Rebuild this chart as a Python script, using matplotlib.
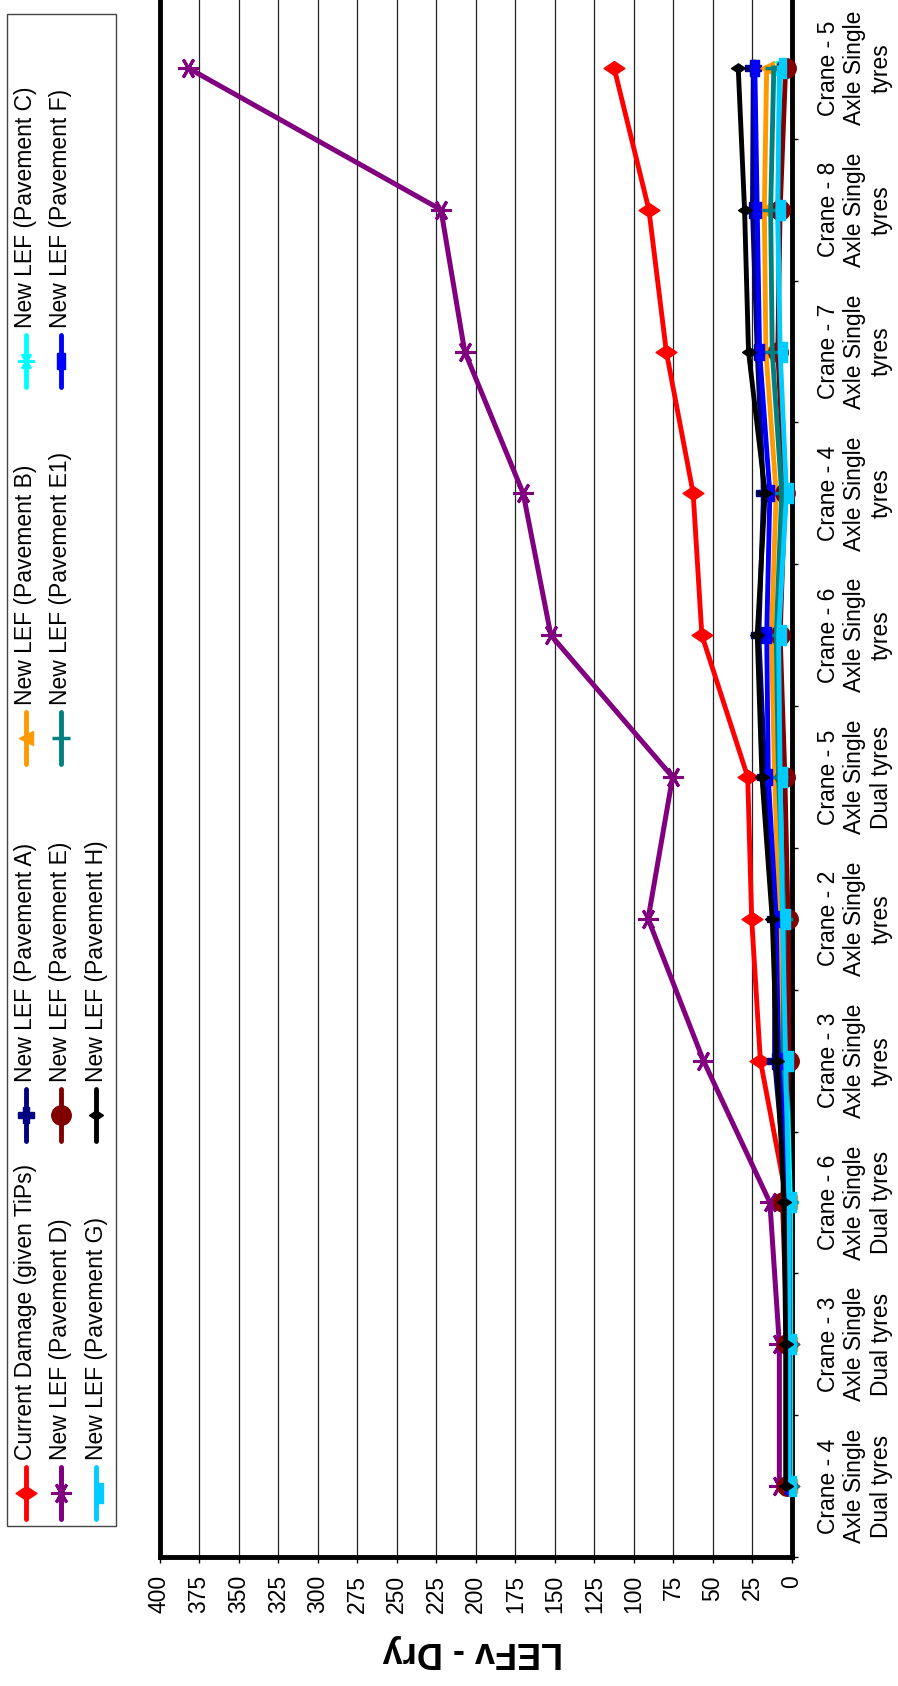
import numpy as np
import matplotlib
matplotlib.use("Agg")
import matplotlib.pyplot as plt
from matplotlib.lines import Line2D
from matplotlib.patches import Rectangle
from matplotlib.path import Path
import matplotlib.transforms as mtransforms

plt.rcParams['font.family'] = ['Liberation Sans', 'DejaVu Sans']

# ---------------- data ----------------
categories = [
    "Crane - 4\nAxle Single\nDual tyres",
    "Crane - 3\nAxle Single\nDual tyres",
    "Crane - 6\nAxle Single\nDual tyres",
    "Crane - 3\nAxle Single\ntyres",
    "Crane - 2\nAxle Single\ntyres",
    "Crane - 5\nAxle Single\nDual tyres",
    "Crane - 6\nAxle Single\ntyres",
    "Crane - 4\nAxle Single\ntyres",
    "Crane - 7\nAxle Single\ntyres",
    "Crane - 8\nAxle Single\ntyres",
    "Crane - 5\nAxle Single\ntyres",
]
current_damage = [2, 2, 3, 20, 25.5, 28, 57, 62.5, 79.5, 90.5, 112.5]
pav_a = [3, 3, 3, 11, 11, 17, 21, 18, 22, 25, 24.5]
pav_b = [1, 1, 1, 7, 8, 11, 13, 10, 16.5, 17.5, 16]
pav_c = [1, 1, 1, 3.5, 5, 7, 8, 4, 8, 9, 7.5]
pav_d = [8, 8, 14, 56, 91, 75.5, 152.5, 170, 207, 222, 382]
pav_e = [3, 3, 6, 2, 2.5, 4.5, 7.5, 4.5, 9, 7.5, 4]
pav_e1 = [1.5, 1.5, 2, 5.5, 5, 8.5, 10, 6.5, 12.5, 13.5, 11.5]
pav_f = [2, 2, 2, 8.5, 10, 15, 16, 14, 20.5, 22, 23.5]
pav_g = [2, 2, 2, 4, 6, 7.5, 8.5, 3.5, 7.5, 9, 8]
pav_h = [4, 4, 5, 9.5, 12.5, 19, 22, 17, 27.5, 30, 34]

value_ticks = list(range(0, 401, 25))
axis_title = "LEFv - Dry"

# ---------------- marker shapes ----------------
diamond = Path([(-1, 0), (0, 0.67), (1, 0), (0, -0.67), (-1, 0)],
               [Path.MOVETO, Path.LINETO, Path.LINETO, Path.LINETO, Path.CLOSEPOLY])
vrect = Path([(-0.5, -1), (0.5, -1), (0.5, 1), (-0.5, 1), (-0.5, -1)],
             [Path.MOVETO, Path.LINETO, Path.LINETO, Path.LINETO, Path.CLOSEPOLY])
offrect = Path([(0, -1), (0.7, -1), (0.7, 1), (0, 1), (0, -1)],
               [Path.MOVETO, Path.LINETO, Path.LINETO, Path.LINETO, Path.CLOSEPOLY])

series = [
    ("Current Damage (given TiPs)", current_damage,
     dict(color="#ff0000", marker=diamond, ms=15, lw=3.5)),
    ("New LEF (Pavement A)", pav_a,
     dict(color="#000080", marker="P", ms=12, lw=3.5)),
    ("New LEF (Pavement B)", pav_b,
     dict(color="#ff9900", marker="<", ms=10, lw=3.5)),
    ("New LEF (Pavement C)", pav_c,
     dict(color="#00ffff", marker=(6, 2, 90), ms=12, mew=2, lw=3.5)),
    ("New LEF (Pavement D)", pav_d,
     dict(color="#800080", marker=(6, 2, 90), ms=15, mew=2.2, lw=3.6)),
    ("New LEF (Pavement E)", pav_e,
     dict(color="#800000", marker="o", ms=14, lw=3.5)),
    ("New LEF (Pavement E1)", pav_e1,
     dict(color="#008080", marker="_", ms=13, mew=2.5, lw=3.5)),
    ("New LEF (Pavement F)", pav_f,
     dict(color="#0000ff", marker=vrect, ms=12, lw=3.5)),
    ("New LEF (Pavement G)", pav_g,
     dict(color="#00ccff", marker=offrect, ms=14, lw=3.5)),
    ("New LEF (Pavement H)", pav_h,
     dict(color="#000000", marker=diamond, ms=10, lw=3.5)),
]

W, H = 898, 1686
fig = plt.figure(figsize=(W / 100, H / 100), dpi=100)


def fx(px):
    return px / W


def fy(py):
    return 1 - py / H


ax_left, ax_right = 159.5, 792.0
ax_top, ax_bottom = -3.0, 1557.0
ax = fig.add_axes([fx(ax_left), fy(ax_bottom), fx(ax_right) - fx(ax_left),
                   (ax_bottom - ax_top) / H])

ypos = np.arange(len(categories))
for i, (label, vals, st) in enumerate(series):
    ax.plot(vals, ypos, color=st["color"], lw=st["lw"], marker=st["marker"],
            ms=st["ms"], mew=st.get("mew", 1), mfc=st["color"], mec=st["color"],
            clip_on=False, zorder=3 + i, solid_joinstyle="round")

ax.set_xlim(400, 0)
ax.set_ylim(-0.5, len(categories) - 0.5)

ax.set_xticks(value_ticks)
ax.set_xticklabels([str(v) for v in value_ticks])
ax.tick_params(axis="x", direction="out", length=4, width=1, pad=9,
               labelsize=16.5, labelrotation=90)
ax.grid(axis="x", color="#222222", lw=0.9, zorder=1)
ax.set_axisbelow(True)

ax.yaxis.set_ticks_position("right")
ax.set_yticks([])
ax.set_yticks(np.arange(-0.5, len(categories), 1.0), minor=True)
ax.tick_params(axis="y", which="minor", direction="out", length=4.5, width=1,
               right=True, left=False, labelright=False)

for side in ["left", "bottom", "right"]:
    ax.spines[side].set_linewidth(3.5)
    ax.spines[side].set_color("black")
ax.spines["top"].set_visible(False)

trans = mtransforms.blended_transform_factory(ax.transAxes, ax.transData)
xlab = (855 - ax_left) / (ax_right - ax_left)
for i, cat in enumerate(categories):
    ax.text(xlab, i, cat, transform=trans, rotation=90, ha="center", va="center",
            multialignment="center", fontsize=16.5, linespacing=1.2)

fig.text(fx(473), fy(1652), axis_title, rotation=180, fontsize=26,
         fontweight="bold", ha="center", va="center")

# ---------------- legend (drawn rotated) ----------------
fig.add_artist(Rectangle((fx(7), fy(1526)), fx(116) - fx(7), fy(14) - fy(1526),
                         transform=fig.transFigure, facecolor="white",
                         edgecolor="#444444", lw=1.0))
row_x = [26, 61, 96]
col_y = [1493, 1115, 738, 361]
legend_order = [0, 1, 2, 3, 4, 5, 6, 7, 8, 9]
for k, si in enumerate(legend_order):
    r, c = divmod(k, 4)
    x, y = row_x[r], col_y[c]
    label, vals, st = series[si]
    fig.add_artist(Line2D([fx(x), fx(x)], [fy(y + 26), fy(y - 26)],
                          transform=fig.transFigure, color=st["color"],
                          lw=st["lw"], solid_capstyle="round"))
    fig.add_artist(Line2D([fx(x)], [fy(y)], transform=fig.transFigure,
                          color=st["color"], marker=st["marker"], ms=st["ms"],
                          mew=st.get("mew", 1), mfc=st["color"], mec=st["color"],
                          lw=0))
    fig.text(fx(x), fy(y - 33), label, rotation=90, ha="center", va="bottom",
             fontsize=16.5)

fig.savefig("out.png", dpi=100)
